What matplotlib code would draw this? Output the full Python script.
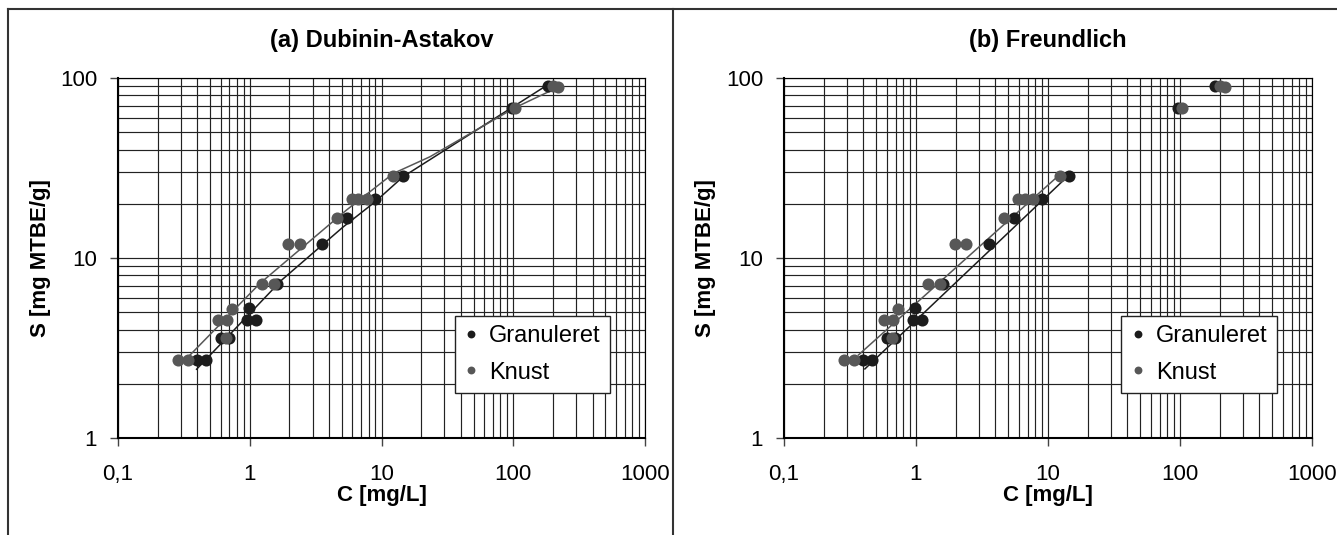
import numpy as np
import matplotlib
matplotlib.use("Agg")
import matplotlib.pyplot as plt
from matplotlib.lines import Line2D
from matplotlib.ticker import LogLocator, NullFormatter

plt.rcParams["font.family"] = ["Liberation Sans", "DejaVu Sans"]

# measured isotherm points (same data in both panels)
gran_c = [0.395, 0.466, 0.605, 0.695, 0.947, 1.115, 0.99, 1.60, 3.55, 5.5, 8.93, 14.5, 97.3, 184.5]
gran_s = [2.7, 2.7, 3.6, 3.6, 4.5, 4.5, 5.3, 7.2, 12, 16.6, 21.2, 28.5, 68.4, 90.3]

knust_c = [0.287, 0.338, 0.657, 0.577, 0.675, 0.73, 1.233, 1.53, 1.96, 2.41,
           4.62, 5.94, 6.67, 7.72, 12.3, 103, 201, 220]
knust_s = [2.7, 2.7, 3.6, 4.5, 4.5, 5.2, 7.2, 7.2, 12, 12,
           16.6, 21.2, 21.2, 21.2, 28.5, 68.4, 90.3, 89]

# model curves
da_gran_c = [0.395, 1.75, 5.13, 8.93, 14.6, 97.3, 184]
da_gran_s = [2.41, 7.55, 14.9, 20.5, 28.3, 68.4, 92]
da_knust_c = [0.352, 1.196, 5.44, 12.3, 23.3, 103, 220]
da_knust_s = [2.89, 7.23, 18.5, 29.5, 36.5, 68.4, 89]

fr_gran_c = [0.41, 14.5]
fr_gran_s = [2.42, 29.0]
fr_knust_c = [0.366, 12.1]
fr_knust_s = [2.89, 28.8]

x_ticks = [0.1, 1, 10, 100, 1000]
x_tick_labels = ["0,1", "1", "10", "100", "1000"]
y_ticks = [1, 10, 100]
y_tick_labels = ["1", "10", "100"]

titles = ["(a) Dubinin-Astakov", "(b) Freundlich"]

DARK = "#1c1c1c"
GREY = "#575757"

W, H = 1337, 535
fig = plt.figure(figsize=(W / 100, H / 100), dpi=100)


def px_rect(left, top, right, bottom):
    return [left / W, 1 - bottom / H, (right - left) / W, (bottom - top) / H]


def setup_axes(ax):
    ax.set_xscale("log")
    ax.set_yscale("log")
    ax.set_xlim(0.1, 1000)
    ax.set_ylim(1, 100)
    ax.set_xticks(x_ticks, x_tick_labels)
    ax.set_yticks(y_ticks, y_tick_labels)
    ax.xaxis.set_minor_locator(LogLocator(base=10, subs=np.arange(2, 10)))
    ax.yaxis.set_minor_locator(LogLocator(base=10, subs=np.arange(2, 10)))
    ax.xaxis.set_minor_formatter(NullFormatter())
    ax.yaxis.set_minor_formatter(NullFormatter())
    ax.tick_params(which="major", direction="out", length=6, width=1,
                   labelsize=16, color="#444444")
    ax.tick_params(axis="x", which="major", pad=13)
    ax.tick_params(axis="y", which="major", pad=9)
    ax.tick_params(which="minor", length=0)
    ax.grid(True, which="both", color="#222222", linewidth=0.85)
    for side in ["top", "right"]:
        ax.spines[side].set_linewidth(0.85)
    for side in ["left", "bottom"]:
        ax.spines[side].set_linewidth(1.5)
    ax.set_axisbelow(True)


panels = [
    (px_rect(118, 78, 645, 438), da_gran_c, da_gran_s, da_knust_c, da_knust_s, 8),
    (px_rect(784, 78, 1312, 438), fr_gran_c, fr_gran_s, fr_knust_c, fr_knust_s, 673),
]

for i, (rect, gc, gs, kc, ks, border_x) in enumerate(panels):
    ax = fig.add_axes(rect)
    setup_axes(ax)
    ax.plot(gc, gs, color=DARK, lw=1.1, zorder=3)
    ax.plot(kc, ks, color=GREY, lw=1.1, zorder=3)
    ax.plot(gran_c, gran_s, "o", color=DARK, ms=8.7, mew=0, zorder=4, label="Granuleret")
    ax.plot(knust_c, knust_s, "o", color=GREY, ms=8.7, mew=0, zorder=5, label="Knust")

    leg = ax.legend(loc="upper left", bbox_to_anchor=(0.639, 0.339), fontsize=17,
                    frameon=True, fancybox=False, framealpha=1, edgecolor="#222222",
                    markerscale=0.65, handlelength=0.6, handletextpad=0.45,
                    borderpad=0.4, labelspacing=0.6, borderaxespad=0)
    leg.get_frame().set_linewidth(1.0)

    x_mid = (rect[0] + rect[2] / 2)
    fig.text(x_mid, 1 - 40 / H, titles[i], ha="center", va="center",
             fontsize=17, fontweight="bold")
    fig.text(x_mid, 1 - 496 / H, "C [mg/L]", ha="center", va="center",
             fontsize=16, fontweight="bold")
    fig.text((border_x + 33) / W, 1 - 258 / H, "S [mg MTBE/g]", ha="center",
             va="center", rotation=90, fontsize=16, fontweight="bold")

# chart-area borders (cropped at the bottom/right in the original)
for x0 in [8, 673]:
    fig.add_artist(Line2D([x0 / W, x0 / W], [0, 1 - 9 / H], color="#333333", lw=1.5))
fig.add_artist(Line2D([8 / W, 1], [1 - 9 / H, 1 - 9 / H], color="#333333", lw=1.5))

fig.savefig("out.png", dpi=100)
